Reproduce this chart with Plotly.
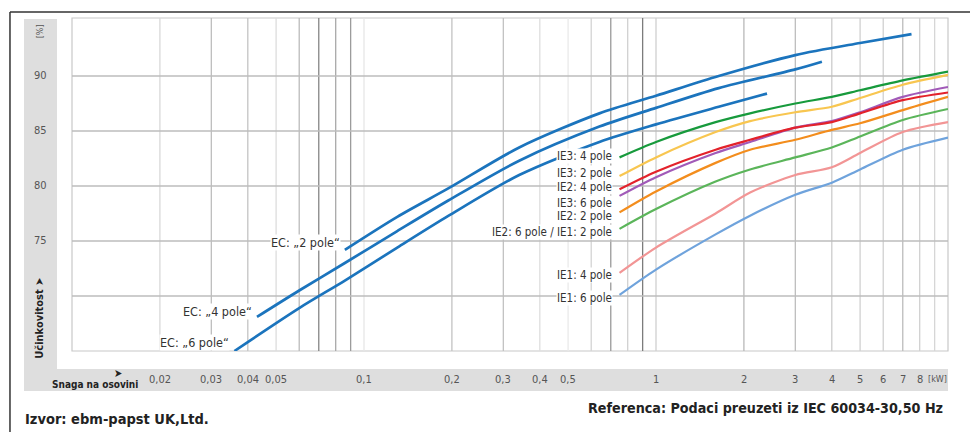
import math
import plotly.graph_objects as go

# ------------------------------------------------------------------ data
ec2_kw = [0.086, 0.13, 0.195, 0.34, 0.64, 1.0, 1.64, 3.0, 5.0, 7.5]
ec2_eff = [74.2, 77.2, 79.8, 83.5, 86.6, 88.2, 90.0, 91.9, 93.0, 93.8]

ec4_kw = [0.043, 0.06, 0.086, 0.13, 0.195, 0.34, 0.64, 1.0, 1.64, 3.0, 3.7]
ec4_eff = [68.1, 70.5, 73.0, 75.9, 78.7, 82.3, 85.4, 87.1, 88.9, 90.6, 91.3]

ec6_kw = [0.036, 0.06, 0.086, 0.13, 0.195, 0.34, 0.64, 1.0, 1.64, 2.4]
ec6_eff = [65.0, 68.9, 71.4, 74.4, 77.3, 81.0, 84.0, 85.6, 87.2, 88.4]

ie_kw = [0.75, 1.0, 1.6, 2.1, 3.0, 4.0, 5.0, 7.0, 10.0]
ie3_4pole = [82.6, 84.0, 85.8, 86.6, 87.5, 88.1, 88.7, 89.6, 90.4]
ie3_2pole = [80.9, 82.6, 84.9, 85.9, 86.7, 87.2, 88.0, 89.2, 90.1]
ie2_4pole = [79.7, 81.3, 83.3, 84.2, 85.3, 85.8, 86.6, 87.8, 88.5]
ie3_6pole = [79.1, 80.8, 83.0, 84.0, 85.3, 85.9, 86.7, 88.1, 89.0]
ie2_2pole = [77.6, 79.5, 82.1, 83.3, 84.2, 85.1, 85.7, 86.9, 88.1]
ie2_6pole = [76.1, 77.9, 80.4, 81.5, 82.6, 83.5, 84.5, 86.0, 87.0]
ie1_4pole = [72.1, 74.4, 77.5, 79.4, 81.0, 81.7, 83.0, 84.9, 85.8]
ie1_6pole = [70.1, 72.4, 75.6, 77.3, 79.2, 80.3, 81.5, 83.3, 84.4]

x_tick_vals = [0.02, 0.03, 0.04, 0.05, 0.1, 0.2, 0.3, 0.4, 0.5, 1, 2, 3, 4, 5, 6, 7, 8]
x_tick_text = ["0,02", "0,03", "0,04", "0,05", "0,1", "0,2", "0,3", "0,4", "0,5",
               "1", "2", "3", "4", "5", "6", "7", "8"]
x_unit = "[kW]"
y_tick_vals = [75, 80, 85, 90]
y_unit = "[%]"
y_grid_vals = [70, 75, 80, 85, 90]

x_grid_vals = [0.02, 0.03, 0.04, 0.05, 0.06, 0.07, 0.08, 0.09, 0.1,
               0.2, 0.3, 0.4, 0.5, 0.6, 0.7, 0.8, 0.9, 1,
               2, 3, 4, 5, 6, 7, 8, 9]

ec_names = ["EC: \u201e2 pole\u201c", "EC: \u201e4 pole\u201c", "EC: \u201e6 pole\u201c"]
ie_names = ["IE3: 4 pole", "IE3: 2 pole", "IE2: 4 pole", "IE3: 6 pole",
            "IE2: 2 pole", "IE2: 6 pole / IE1: 2 pole", "IE1: 4 pole", "IE1: 6 pole"]

y_title = "U\u010dinkovitost \u27a4"
x_title = "Snaga na osovini"
source_text = "Izvor: ebm-papst UK,Ltd."
ref_text = "Referenca: Podaci preuzeti iz IEC 60034-30,50 Hz"

# ------------------------------------------------------------------ styles
FONT = "Liberation Sans Narrow, Arial Narrow, DejaVu Sans Condensed, Liberation Sans, sans-serif"
X_RANGE = [0.01, 10]
Y_RANGE = [65, 95.27]

grid_shade = {0.02: "#d8d8d8", 0.03: "#bdbdbd", 0.04: "#c4c4c4", 0.05: "#dcdcdc",
              0.06: "#bbbbbb", 0.07: "#858585", 0.08: "#a8a8a8", 0.09: "#9c9c9c",
              0.1: "#e6e6e6", 0.2: "#c2c2c2", 0.3: "#c2c2c2", 0.4: "#dedede",
              0.5: "#eaeaea", 0.6: "#d4d4d4", 0.7: "#999999", 0.8: "#d0d0d0",
              0.9: "#7c7c7c", 1: "#cfcfcf", 2: "#b8b8b8", 3: "#bdbdbd",
              4: "#cccccc", 5: "#d0d0d0", 6: "#d0d0d0", 7: "#bcbcbc",
              8: "#d0d0d0", 9: "#d6d6d6"}

EC_COLOR = "#1b74bd"
ie_colors = ["#179a3c", "#f8c650", "#e3222b", "#a15ab8",
             "#f38d1d", "#5bb55a", "#f29595", "#6fa3dc"]
ie_label_shift = [1, 3, 2, -7, -4, -3, -2, -3]
ec_label_shift = [7, 5, 9]

fig = go.Figure()

# vertical gridlines grouped by shade
shades = {}
for v in x_grid_vals:
    shades.setdefault(grid_shade[v], []).append(v)
for col, vals in shades.items():
    xs, ys = [], []
    for v in vals:
        xs += [v, v, None]
        ys += [Y_RANGE[0], Y_RANGE[1], None]
    fig.add_trace(go.Scatter(x=xs, y=ys, mode="lines", line=dict(color=col, width=1.3),
                             hoverinfo="skip", showlegend=False))
# horizontal gridlines
xs, ys = [], []
for v in y_grid_vals:
    xs += [X_RANGE[0], X_RANGE[1], None]
    ys += [v, v, None]
fig.add_trace(go.Scatter(x=xs, y=ys, mode="lines", line=dict(color="#bdbdbd", width=1.3),
                         hoverinfo="skip", showlegend=False))

# EC curves
for kw, eff in [(ec2_kw, ec2_eff), (ec4_kw, ec4_eff), (ec6_kw, ec6_eff)]:
    fig.add_trace(go.Scatter(x=kw, y=eff, mode="lines",
                             line=dict(color=EC_COLOR, width=2.7, shape="spline", smoothing=0.8),
                             hoverinfo="skip", showlegend=False))

ie_series = [ie3_4pole, ie3_2pole, ie2_4pole, ie3_6pole, ie2_2pole, ie2_6pole, ie1_4pole, ie1_6pole]
for i in reversed(range(len(ie_series))):
    fig.add_trace(go.Scatter(x=ie_kw, y=ie_series[i], mode="lines",
                             line=dict(color=ie_colors[i], width=2.2, shape="spline", smoothing=0.8),
                             hoverinfo="skip", showlegend=False))

annotations = []
# IE labels
for i, name in enumerate(ie_names):
    annotations.append(dict(x=math.log10(ie_kw[0]), y=ie_series[i][0], xref="x", yref="y",
                            text=name, showarrow=False, xanchor="right", yanchor="middle",
                            xshift=-7, yshift=ie_label_shift[i], bgcolor="white", borderpad=0,
                            font=dict(family=FONT, size=11.5, color="#333333")))
# EC labels
for i, (kw, eff) in enumerate([(ec2_kw, ec2_eff), (ec4_kw, ec4_eff), (ec6_kw, ec6_eff)]):
    annotations.append(dict(x=math.log10(kw[0]), y=eff[0], xref="x", yref="y",
                            text=ec_names[i], showarrow=False, xanchor="right", yanchor="middle",
                            xshift=-4, yshift=ec_label_shift[i], bgcolor="white", borderpad=0,
                            font=dict(family=FONT, size=12.5, color="#333333")))
# x tick labels in the grey band
for v, t in zip(x_tick_vals, x_tick_text):
    annotations.append(dict(x=math.log10(v), y=-0.085, xref="x", yref="paper", text=t,
                            showarrow=False, xanchor="center", yanchor="middle",
                            font=dict(family=FONT, size=11, color="#555555")))
annotations.append(dict(x=math.log10(9.2), y=-0.085, xref="x", yref="paper", text=x_unit,
                        showarrow=False, xanchor="center", yanchor="middle",
                        font=dict(family=FONT, size=9, color="#555555")))
# y tick labels in the grey column
for v in y_tick_vals:
    annotations.append(dict(x=-0.0365, y=v, xref="paper", yref="y", text=str(v),
                            showarrow=False, xanchor="center", yanchor="middle",
                            font=dict(family=FONT, size=11, color="#555555")))
annotations.append(dict(x=-0.0365, y=0.96, xref="paper", yref="paper", text=y_unit,
                        showarrow=False, textangle=-90, xanchor="center", yanchor="middle",
                        font=dict(family=FONT, size=9, color="#555555")))
annotations.append(dict(x=-0.0365, y=0.097, xref="paper", yref="paper", text="<b>" + y_title + "</b>",
                        showarrow=False, textangle=-90, xanchor="center", yanchor="middle",
                        font=dict(family=FONT, size=11, color="#222222")))
annotations.append(dict(x=0.0525, y=-0.068, xref="paper", yref="paper", text="<b>\u27a4</b>",
                        showarrow=False, xanchor="center", yanchor="middle",
                        font=dict(family=FONT, size=11, color="#222222")))
annotations.append(dict(x=-0.025, y=-0.102, xref="paper", yref="paper", text="<b>" + x_title + "</b>",
                        showarrow=False, xanchor="left", yanchor="middle",
                        font=dict(family=FONT, size=10, color="#222222")))
annotations.append(dict(x=-0.056, y=-0.203, xref="paper", yref="paper", text="<b>" + source_text + "</b>",
                        showarrow=False, xanchor="left", yanchor="middle",
                        font=dict(family=FONT, size=14.5, color="#222222")))
annotations.append(dict(x=0.997, y=-0.172, xref="paper", yref="paper", text="<b>" + ref_text + "</b>",
                        showarrow=False, xanchor="right", yanchor="middle",
                        font=dict(family=FONT, size=14.2, color="#222222")))

shapes = [
    dict(type="rect", xref="paper", yref="paper", x0=-0.0548, x1=-0.0171, y0=-0.12, y1=0.997,
         fillcolor="#dedede", line=dict(width=0), layer="below"),
    dict(type="rect", xref="paper", yref="paper", x0=-0.0548, x1=1.0, y0=-0.12, y1=-0.054,
         fillcolor="#dedede", line=dict(width=0), layer="below"),
    dict(type="line", xref="paper", yref="paper", x0=-0.0708, x1=1.03, y0=1.018, y1=1.018,
         line=dict(color="#333333", width=1.5)),
    dict(type="line", xref="paper", yref="paper", x0=-0.0708, x1=-0.0708, y0=1.018, y1=-0.25,
         line=dict(color="#333333", width=1.5)),
    dict(type="rect", xref="paper", yref="paper", x0=0, x1=1, y0=0, y1=1,
         line=dict(color="#c8c8c8", width=1.2), layer="below"),
]

fig.update_layout(
    width=970, height=432,
    margin=dict(l=72, r=22, t=18, b=81),
    paper_bgcolor="white", plot_bgcolor="white",
    xaxis=dict(type="log", range=[math.log10(X_RANGE[0]), math.log10(X_RANGE[1])],
               showgrid=False, showticklabels=False, ticks="", zeroline=False, showline=False),
    yaxis=dict(range=Y_RANGE, showgrid=False, showticklabels=False, ticks="", zeroline=False,
               showline=False),
    annotations=annotations, shapes=shapes, showlegend=False,
)

fig.write_html("out.html", config={"displayModeBar": False},
               post_script="document.body.style.margin='0';document.body.style.overflow='hidden';")
